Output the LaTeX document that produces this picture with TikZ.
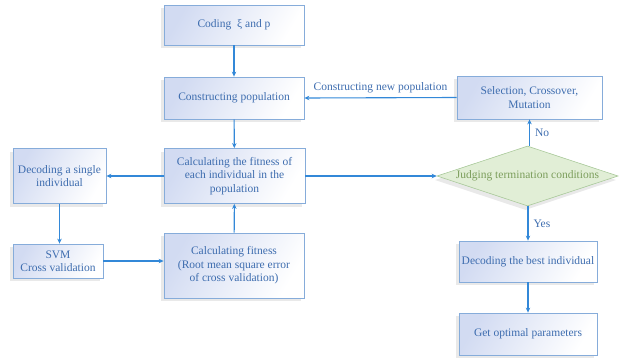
\documentclass[tikz,border=0pt]{standalone}
\usepackage{fontspec}
\setmainfont{Liberation Serif}
\usetikzlibrary{arrows.meta,shapes.geometric,shadows}
\definecolor{boxborder}{HTML}{86ACDA}
\definecolor{boxtext}{HTML}{3E6DAF}
\definecolor{arrowc}{HTML}{3388D8}
\definecolor{boxleft}{HTML}{D2DBF2}
\definecolor{dfill}{HTML}{E1EED6}
\definecolor{dborder}{HTML}{A9C99A}
\definecolor{dtext}{HTML}{7C9E5C}
\tikzset{
  box/.style={draw=boxborder, line width=0.8pt, left color=boxleft, right color=white,
    shading angle=60, text=boxtext, align=center, inner sep=2pt,
    font=\fontsize{11.5}{13.5}\selectfont,
    drop shadow={shadow xshift=-3pt, shadow yshift=-3pt, fill=black!35, opacity=0.25}},
  conn/.style={draw=arrowc, line width=1.1pt, -{Stealth[length=5pt,width=4.5pt]}},
  lbl/.style={text=boxtext, font=\fontsize{11.5}{13}\selectfont, inner sep=1pt},
}
\begin{document}
\begin{tikzpicture}[x=1pt,y=-1pt]
\useasboundingbox (0,0) rectangle (619,359);
\node[box, minimum width=140pt, minimum height=40pt] (coding) at (234,25) {Coding\ \ ξ and p};
\node[box, minimum width=140pt, minimum height=42pt] (constr) at (234,98) {Constructing population};
\node[box, minimum width=141pt, minimum height=55pt] (calc) at (234.5,176) {Calculating the fitness of\\each individual in the\\population};
\node[box, minimum width=93pt, minimum height=55pt] (decs) at (59.5,176) {Decoding a single\\individual};
\node[box, minimum width=90pt, minimum height=34pt] (svm) at (58,261) {SVM\\Cross validation};
\node[box, minimum width=140pt, minimum height=65pt] (rmse) at (234,265.5) {Calculating fitness\\(Root mean square error\\of cross validation)};
\node[box, minimum width=145pt, minimum height=43pt] (sel) at (529.5,97.5) {Selection, Crossover,\\Mutation};
\node[box, minimum width=138pt, minimum height=41pt] (best) at (528,261.5) {Decoding the best individual};
\node[box, minimum width=138pt, minimum height=42pt] (opt) at (528,334) {Get optimal parameters};
\node[diamond, draw=dborder, fill=dfill, line width=0.6pt, minimum width=181pt, minimum height=60pt, inner sep=0pt,
  drop shadow={shadow xshift=-2pt, shadow yshift=-4pt, fill=black!35, opacity=0.25}] (judge) at (527.5,176) {};
\node[text=dtext, font=\fontsize{11.5}{13}\selectfont] (judgetext) at (judge.center) {Judging termination conditions};

\draw[conn] (coding) -- (constr);
\draw[conn] (constr) -- (calc);
\draw[conn] (calc.west) -- (decs.east);
\draw[conn] (decs) -- (decs |- svm.north);
\draw[conn] (svm.east) -- (svm.east -| rmse.west);
\draw[conn] (rmse) -- (calc);
\draw[conn] (calc.east) -- (judge.west);
\draw[conn] (judge.north -| sel.south) -- node[lbl, right=4pt] {No} (sel.south);
\draw[conn] (sel.west) -- node[lbl, above=3pt] {Constructing new population} (constr.east);
\draw[conn] (judge.south -| best.north) -- node[lbl, right=4pt] {Yes} (best.north);
\draw[conn] (best) -- (opt);
\end{tikzpicture}
\end{document}
